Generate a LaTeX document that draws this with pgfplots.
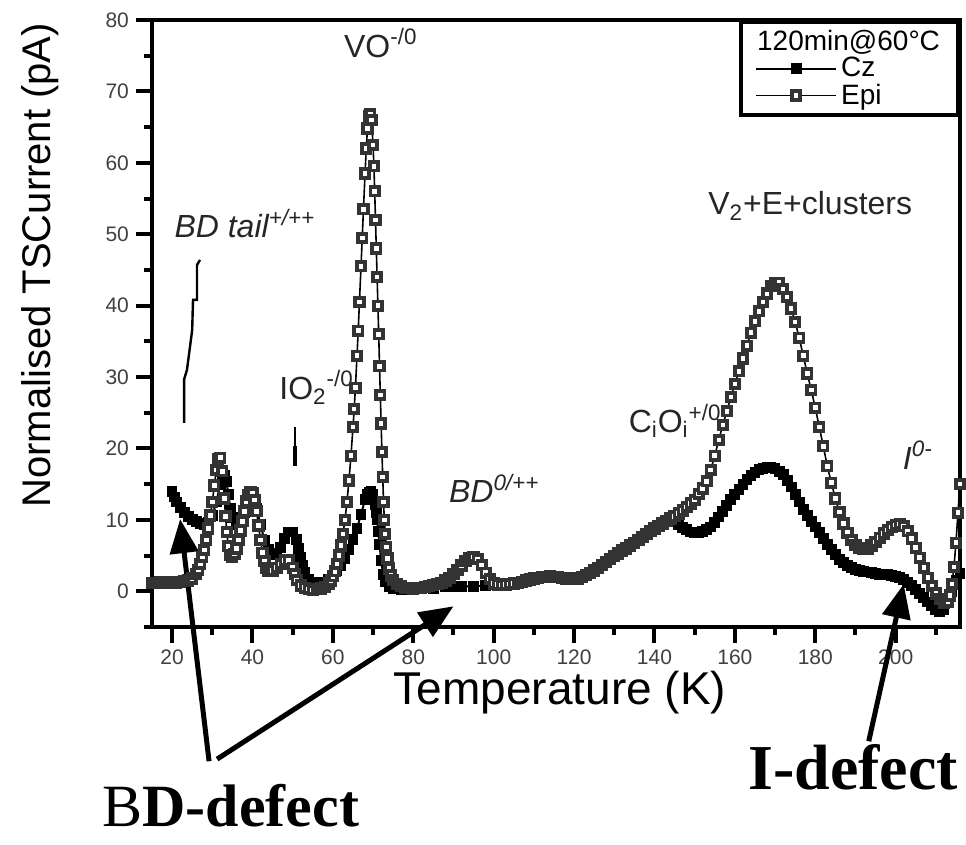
\documentclass[border=0pt]{standalone}
\usepackage{fontspec}
\setmainfont{Liberation Sans}
\newfontfamily\timesf{Liberation Serif}
\usepackage{pgfplots}
\pgfplotsset{compat=1.18}
\usetikzlibrary{arrows.meta}
\definecolor{epigray}{RGB}{51,51,51}

\begin{document}
\begin{tikzpicture}
\begin{axis}[name=ax, scale only axis, width=404pt, height=303.5pt,
 xmin=15, xmax=216, ymin=-5, ymax=80,
 xtick={20,40,...,200}, minor xtick={30,50,...,210},
 ytick={0,10,...,80}, minor ytick={-5,5,...,75},
 xtick pos=left, ytick pos=left, tick align=outside,
 major tick length=8pt, minor tick length=4pt,
 axis line style={line width=2pt},
 tick style={black, line width=2pt},
 tick label style={font=\fontsize{10.5}{10.5}\selectfont, text=black!75},
 /pgf/number format/assume math mode=true,
 xlabel={Temperature (K)}, ylabel={Normalised TSCurrent (pA)},
 xlabel style={font=\fontsize{23}{23}\selectfont, at={(axis description cs:0.505,-0.1285)}, anchor=base},
 ylabel style={font=\fontsize{20}{20}\selectfont, at={(axis description cs:-0.126,0.596)}, anchor=base},
 clip=false,
 legend style={at={(1,1)}, anchor=north east, draw=black, line width=2pt,
   font=\fontsize{14}{15}\selectfont, inner xsep=7pt, inner ysep=2pt, row sep=-2pt},
 legend cell align=left,
 legend image code/.code={\draw[mark repeat=2, mark phase=2, #1] plot coordinates {(0pt,0pt) (20pt,0pt) (40pt,0pt)};},
]
\addlegendimage{empty legend}
\addlegendentry{\hspace*{-42pt}120min@60°C}

\addplot[black, line width=1pt, mark=square*, mark size=2.2pt, mark options={black, solid}] coordinates {
(20,14) (20.5,13.2) (21,12.5) (22,11.7) (23,11) (24,10.5) (25,10.1) (26,9.8) (27,9.5) (28,9.4) (29,9.7) (30,10.6) (31,12.5) (32,15) (32.5,16) (33,16.2) (33.5,15.4) (34,13.6) (34.5,11.6) (35,10.3) (36,9.3) (37,9.6) (38,11) (39,12.4) (40,12.8) (41,11.6) (42,9.3) (43,7.1) (44,5.8) (45,5.2) (46,5.3) (47,6.1) (48,7.4) (49,8.3) (50,8.3) (51,7.2) (51.5,6) (52,4.8) (52.5,3.6) (53,2.6) (54,1.6) (55,1.3) (56,1.2) (57,1.2) (58,1.3) (59,1.6) (60,2.2) (61,2.9) (62,3.6) (63,4.6) (64,5.8) (65,7.2) (66,8.8) (67,10.8) (68,12.8) (68.5,13.5) (69,13.9) (69.5,14) (70,13.5) (70.5,12.2) (70.8,11) (71,10) (71.3,8.4) (71.6,6.6) (72,4.3) (72.5,2.4) (73,1.3) (74,0.6) (75,0.4) (77,0.3) (80,0.3) (85,0.4) (88,0.6) (90,0.7) (92,0.7) (95,0.7) (98,0.8) (100,0.9) (102,0.9) (104,1) (106,1.2) (108,1.5) (110,1.8) (112,2) (114,2.1) (116,2) (118,1.8) (120,1.7) (122,2) (124,2.6) (126,3.3) (128,4.1) (130,4.9) (132,5.7) (134,6.4) (136,7.2) (138,8) (140,8.8) (142,9.4) (144,9.8) (146,9.4) (147,8.9) (148,8.6) (149,8.3) (150,8.2) (151,8.2) (152,8.4) (153,8.6) (154,9) (155,9.6) (156,10.4) (157,11.2) (158,12) (159,12.8) (160,13.6) (161,14.3) (162,15) (163,15.6) (164,16.2) (165,16.6) (166,17) (167,17.2) (168,17.3) (169,17.3) (170,17.2) (171,16.8) (172,16.3) (173,15.5) (174,14.6) (175,13.6) (176,12.5) (177,11.5) (178,10.6) (179,9.8) (180,9) (181,8.2) (182,7.4) (183,6.6) (184,5.8) (185,5.1) (186,4.5) (187,4) (188,3.6) (189,3.3) (190,3.1) (191,2.9) (192,2.8) (193,2.7) (194,2.6) (195,2.5) (196,2.4) (197,2.35) (198,2.3) (199,2.2) (200,2.1) (201,1.9) (202,1.6) (203,1.2) (204,0.8) (205,0.3) (206,-0.3) (207,-0.9) (208,-1.5) (209,-2) (210,-2.5) (211,-2.8) (212,-2.6) (213,-1.6) (214,0) (215,1.5) (216,2.5)
};
\addlegendentry{Cz}

\addplot[black, line width=0.8pt, mark=square*, mark size=2.1pt, mark options={draw=epigray, fill=white, line width=1.9pt, solid}] coordinates {
(15,1.2) (16,1.2) (17,1.3) (18,1.2) (19,1.2) (20,1.3) (21,1.2) (22,1.3) (23,1.4) (24,1.5) (25,1.8) (26,2.4) (26.5,3.0) (27,3.8) (27.5,4.8) (28,5.8) (28.5,7.2) (29,8.8) (29.5,10.6) (30,12.5) (30.5,14.8) (31,17) (31.5,18.5) (32,18.7) (32.5,16.8) (33,13) (33.3,10.5) (33.6,8.3) (34,6.3) (34.5,5.1) (35,4.8) (35.5,5.2) (36,6) (36.5,7.2) (37,8.5) (37.5,9.8) (38,11.2) (38.5,12.6) (39,13.5) (39.5,13.9) (40,13.7) (40.5,12.8) (41,11.2) (41.5,9.2) (42,7.2) (42.5,5.4) (43,4.2) (43.5,3.3) (44,2.8) (45,2.9) (46,3.3) (47,3.8) (48,4.3) (49,4.3) (50,3.3) (50.5,2.4) (51,1.6) (52,0.8) (53,0.5) (54,0.3) (55,0.2) (56,0.3) (57,0.4) (58,0.6) (59,1.1) (59.5,1.5) (60,2.1) (60.5,2.8) (61,3.8) (61.5,5) (62,6.4) (62.5,8) (63,10) (63.5,12.5) (64,15.5) (64.5,19) (65,23) (65.3,25.5) (65.6,28.5) (66,33) (66.3,36.5) (66.6,40.5) (67,45.5) (67.3,49.5) (67.6,53.5) (68,58.5) (68.3,62) (68.6,64.8) (69,66.5) (69.3,66.8) (69.6,66) (70,62.5) (70.2,59.5) (70.4,56) (70.6,52) (70.8,48) (71,44) (71.2,40) (71.4,36) (71.6,31.5) (71.8,27.5) (72,23.5) (72.2,19.5) (72.4,16) (72.6,12.5) (72.8,10) (73,8) (73.3,6.2) (73.6,4.6) (74,3.2) (74.5,2.2) (75,1.6) (76,1) (77,0.7) (78,0.5) (79,0.45) (80,0.4) (81,0.45) (82,0.5) (83,0.6) (84,0.7) (85,0.85) (86,1) (87,1.2) (88,1.5) (89,1.9) (90,2.4) (91,3) (92,3.6) (93,4.2) (94,4.6) (95,4.8) (96,4.5) (97,3.7) (98,2.6) (99,1.7) (100,1.1) (101,0.95) (102,0.9) (103,0.95) (104,1) (105,1.1) (106,1.2) (107,1.35) (108,1.5) (109,1.65) (110,1.8) (111,1.9) (112,2) (113,2.05) (114,2.1) (115,2.05) (116,2) (117,1.9) (118,1.8) (119,1.75) (120,1.7) (121,1.8) (122,2) (123,2.3) (124,2.6) (125,2.9) (126,3.3) (127,3.7) (128,4.1) (129,4.5) (130,4.9) (131,5.3) (132,5.7) (133,6.0) (134,6.4) (135,6.8) (136,7.2) (137,7.6) (138,8) (139,8.4) (140,8.8) (141,9.15) (142,9.5) (143,9.85) (144,10.2) (145,10.5) (146,10.9) (147,11.3) (148,11.8) (149,12.3) (150,12.8) (151,13.6) (152,14.4) (153,15.4) (154,17) (155,19) (156,21.2) (157,23.3) (158,25.2) (159,27.2) (160,29) (161,30.8) (162,32.6) (163,34.4) (164,36.2) (165,37.8) (166,39.2) (167,40.5) (168,41.7) (169,42.7) (170,43.2) (171,43.2) (172,42.3) (173,41.2) (174,39.6) (175,37.7) (176,35.5) (177,33) (178,30.5) (179,28.2) (180,25.7) (181,23) (182,20.3) (183,17.5) (184,15.2) (185,13) (186,11.1) (187,9.5) (188,8.2) (189,7.2) (190,6.5) (191,6.1) (192,5.9) (193,6) (194,6.4) (195,6.9) (196,7.5) (197,8.1) (198,8.6) (199,9) (200,9.3) (201,9.4) (202,9.1) (203,8.4) (204,7.4) (205,6.1) (206,4.7) (207,3.3) (208,1.9) (209,0.7) (210,-0.3) (211,-1.1) (212,-1.6) (213,-1.5) (213.5,-0.6) (214,1) (214.5,3.4) (215,6.8) (215.5,11) (216,15)
};
\addlegendentry{Epi}

% annotations
\begin{scope}[every node/.style={text=black!85, font=\fontsize{16}{16}\selectfont, inner sep=0pt}]
\node[anchor=base west] at (axis cs:62.7,74.8) {VO\textsuperscript{-/0}};
\node[anchor=base west, font=\fontsize{16}{16}\selectfont\itshape] at (axis cs:20.5,49.5) {BD tail\textsuperscript{+/++}};
\node[anchor=base west] at (axis cs:46.6,26.9) {IO\textsubscript{2}\textsuperscript{-/0}};
\node[anchor=base west, font=\fontsize{16}{16}\selectfont\itshape] at (axis cs:88.8,12.4) {BD\textsuperscript{0/++}};
\node[anchor=base west] at (axis cs:133.5,22.2) {C\textsubscript{i}O\textsubscript{i}\textsuperscript{+/0}};
\node[anchor=base west] at (axis cs:153.3,52.7) {V\textsubscript{2}+E+clusters};
\node[anchor=base west, font=\fontsize{16}{16}\selectfont\itshape] at (axis cs:201.7,17.1) {I\textsuperscript{0-}};
\end{scope}

\draw[line width=1.2pt] (axis cs:26.95,46.4) -- (axis cs:26.2,45.7) -- (axis cs:26.2,40.8) -- (axis cs:25.2,40.8) -- (axis cs:25.0,36.6) -- (axis cs:23.7,31.0) -- (axis cs:23.0,29.7) -- (axis cs:23.0,23.6);
\draw[line width=1pt] (axis cs:50.5,23) -- (axis cs:50.5,17.5);
\draw[line width=2pt] (axis cs:50.6,20.3) -- (axis cs:50.6,17.5);

\draw[line width=2.5pt, -{Triangle[length=17pt,width=14pt]}] (axis cs:29.2,-23.8) -- (axis cs:22.0,10.1);
\draw[line width=2.5pt, -{Triangle[length=17pt,width=14pt]}] (axis cs:31.2,-23.5) -- (axis cs:90.0,-2.1);
\draw[line width=2.5pt, -{Triangle[length=17pt,width=14pt]}] (axis cs:193.3,-21.0) -- (axis cs:202.0,1.0);

\node[anchor=base west, inner sep=0pt, font=\timesf\fontsize{30}{30}\selectfont] at (axis cs:2.6,-33.0) {B\textbf{D-defect}};
\node[anchor=base east, inner sep=0pt, font=\timesf\bfseries\fontsize{32}{32}\selectfont] at (axis cs:215.6,-27.7) {I-defect};
\end{axis}
\pgfresetboundingbox
\path[use as bounding box] ([shift={(-76pt,-109pt)}]ax.south west) rectangle ([shift={(3pt,10pt)}]ax.north east);
\end{tikzpicture}
\end{document}
